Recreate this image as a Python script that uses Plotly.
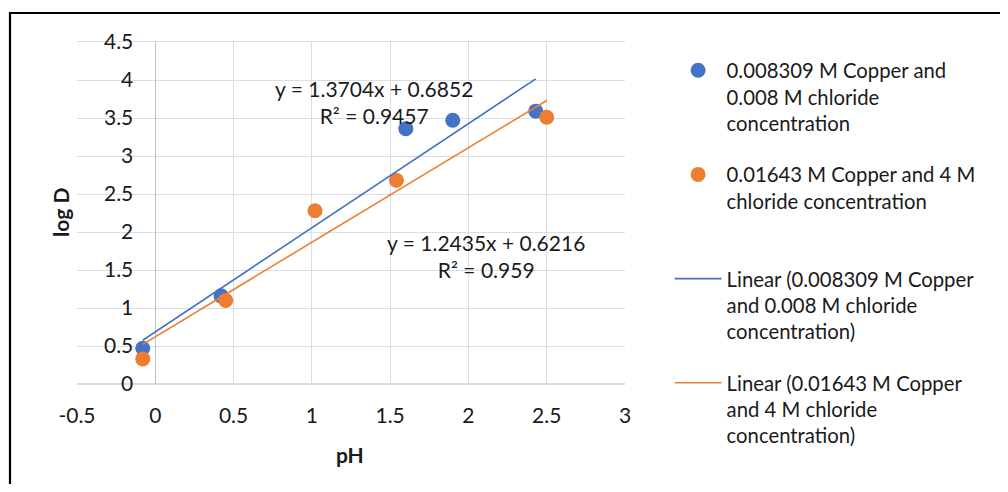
import plotly.graph_objects as go

# ---- data ----
ph_blue = [-0.08, 0.42, 1.60, 1.90, 2.43]
logd_blue = [0.47, 1.16, 3.36, 3.47, 3.59]
ph_orange = [-0.08, 0.45, 1.02, 1.54, 2.50]
logd_orange = [0.33, 1.10, 2.28, 2.68, 3.51]

slopes = [1.3704, 1.2435]
intercepts = [0.6852, 0.6216]
r2_values = ["0.9457", "0.959"]

series_names = [
    "0.008309 M Copper and<br>0.008 M chloride<br>concentration",
    "0.01643 M Copper and 4 M<br>chloride concentration<br> ",
]
trend_names = [
    "Linear (0.008309 M Copper<br>and 0.008 M chloride<br>concentration)",
    "Linear (0.01643 M Copper<br>and 4 M chloride<br>concentration)",
]

x_ticks = [-0.5, 0, 0.5, 1, 1.5, 2, 2.5, 3]
y_ticks = [0, 0.5, 1, 1.5, 2, 2.5, 3, 3.5, 4, 4.5]

BLUE = "#4472C4"
ORANGE = "#ED7D31"
FONT = "Lato, Open Sans, sans-serif"
TXT = "#1a1a1a"
FS = 21

fig = go.Figure()

fig.add_trace(go.Scatter(x=ph_blue, y=logd_blue, mode="markers", name=series_names[0],
                         legendgroup="a", marker=dict(color=BLUE, size=15)))
fig.add_trace(go.Scatter(x=ph_orange, y=logd_orange, mode="markers", name=series_names[1],
                         legendgroup="b", marker=dict(color=ORANGE, size=15)))

for xs, m, b, col, nm, g in [
    (ph_blue, slopes[0], intercepts[0], BLUE, trend_names[0], "c"),
    (ph_orange, slopes[1], intercepts[1], ORANGE, trend_names[1], "d"),
]:
    x0, x1 = min(xs), max(xs)
    fig.add_trace(go.Scatter(x=[x0, x1], y=[m * x0 + b, m * x1 + b], mode="lines", name=nm,
                             legendgroup=g, line=dict(color=col, width=1.6)))

# page body has an 8px margin: figure is 992x476 placed at (8, 8)
fig.update_layout(
    width=992, height=476,
    margin=dict(l=69, r=375, t=34, b=100),
    paper_bgcolor="white", plot_bgcolor="white",
    font=dict(family=FONT, size=FS, color=TXT),
    showlegend=True,
    legend=dict(x=1.0814, y=0.975, xanchor="left", yanchor="top",
                font=dict(size=20.3, color=TXT), tracegroupgap=22,
                itemwidth=47, valign="top", maxheight=700,
                bgcolor="rgba(0,0,0,0)", borderwidth=0),
)

fig.update_xaxes(range=[-0.5, 3], tickvals=x_ticks, ticktext=[str(v) for v in x_ticks],
                 showgrid=True, gridcolor="#D9DEE6", gridwidth=1.3,
                 zeroline=True, zerolinecolor="#B8C2D3", zerolinewidth=1.3,
                 showline=True, linecolor="#D9DEE6", linewidth=1.3, mirror=True,
                 ticks="", ticklabelstandoff=13, fixedrange=True)
fig.update_yaxes(range=[0, 4.5], tickvals=y_ticks, ticktext=[str(v) for v in y_ticks],
                 showgrid=True, gridcolor="#D9DEE6", gridwidth=1.3,
                 zeroline=False, showline=False,
                 anchor="free", position=0.5 / 3.5,
                 ticks="", ticklabelstandoff=22, fixedrange=True)

# x axis baseline (y=0)
fig.add_shape(type="line", xref="paper", yref="y", x0=0, x1=1, y0=0, y1=0,
              line=dict(color="#C9D0DC", width=1.5), layer="below")

# trendline equations
fig.add_annotation(x=1.40, y=3.717, xref="x", yref="y", showarrow=False,
                   xanchor="center", yanchor="middle",
                   text=f"y = {slopes[0]}x + {intercepts[0]}<br>R² = {r2_values[0]}",
                   font=dict(size=FS, color=TXT), align="center")
fig.add_annotation(x=2.112, y=1.684, xref="x", yref="y", showarrow=False,
                   xanchor="center", yanchor="middle",
                   text=f"y = {slopes[1]}x + {intercepts[1]}<br>R² = {r2_values[1]}",
                   font=dict(size=FS, color=TXT), align="center")

# axis titles
fig.add_annotation(x=(60 - 77) / 548, y=(384 - 213) / 342, xref="paper", yref="paper",
                   xanchor="center", yanchor="middle",
                   text="<b>log D</b>", textangle=-90, showarrow=False,
                   font=dict(size=FS, color=TXT))
fig.add_annotation(x=(350 - 77) / 548, y=(384 - 455) / 342, xref="paper", yref="paper",
                   xanchor="center", yanchor="middle",
                   text="<b>pH</b>", showarrow=False, font=dict(size=FS, color=TXT))

# outer frame
fig.add_shape(type="rect", xref="paper", yref="paper",
              x0=(10 - 77) / 548, x1=(1030 - 77) / 548,
              y0=(384 - 520) / 342, y1=(384 - 13) / 342,
              line=dict(color="black", width=2.2), fillcolor="rgba(0,0,0,0)")

fig.write_html("out.html")
